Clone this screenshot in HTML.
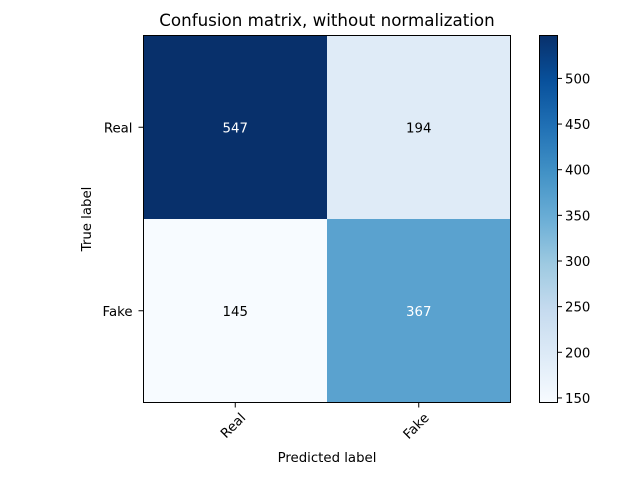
<!DOCTYPE html>
<html><head><meta charset="utf-8"><style>
body{margin:0;background:#fff;}
svg text{font-family:"DejaVu Sans","Liberation Sans",sans-serif;font-size:13.3px;}
</style></head><body>
<svg width="640" height="480">
<defs><linearGradient id="cb" x1="0" y1="1" x2="0" y2="0">
<stop offset="0" stop-color="#f7fbff"/><stop offset="0.125" stop-color="#deebf7"/><stop offset="0.25" stop-color="#c6dbef"/><stop offset="0.375" stop-color="#9ecae1"/><stop offset="0.5" stop-color="#6baed6"/><stop offset="0.625" stop-color="#4292c6"/><stop offset="0.75" stop-color="#2171b5"/><stop offset="0.875" stop-color="#08519c"/><stop offset="1" stop-color="#08306b"/>
</linearGradient></defs>
<g id="cells"></g>
<text x="327" y="26" text-anchor="middle" style="font-size:16.7px">Confusion matrix, without normalization</text>
<text x="327" y="462" text-anchor="middle">Predicted label</text>
<text transform="translate(91,219) rotate(-90)" text-anchor="middle">True label</text>
<rect x="539.5" y="35.5" width="18" height="367" fill="url(#cb)" stroke="#000" stroke-width="1"/>
<g id="cbticks"></g>
</svg>
<script>
const labels=["Real","Fake"];
const matrix=[[547,194],[145,367]];
const cbTicks=[150,200,250,300,350,400,450,500];
const stops=["#f7fbff","#deebf7","#c6dbef","#9ecae1","#6baed6","#4292c6","#2171b5","#08519c","#08306b"];
const ns="http://www.w3.org/2000/svg";
const L=143.5,T=35.5,W=367,H=367;
const flat=matrix.flat(),vmin=Math.min(...flat),vmax=Math.max(...flat);
function hex(h){return [1,3,5].map(i=>parseInt(h.substr(i,2),16));}
function cmap(v){let t=(v-vmin)/(vmax-vmin)*(stops.length-1);let i=Math.min(Math.floor(t),stops.length-2);let f=t-i;let a=hex(stops[i]),b=hex(stops[i+1]);return "rgb("+a.map((x,k)=>Math.round(x+(b[k]-x)*f)).join(",")+")";}
function mk(tag,at,txt){const e=document.createElementNS(ns,tag);for(const k in at)e.setAttribute(k,at[k]);if(txt!==undefined)e.textContent=txt;return e;}
const g=document.getElementById("cells");
const n=labels.length,cw=W/n,ch=H/n;
matrix.forEach((row,i)=>row.forEach((v,j)=>{
 const r=mk("rect",{x:L+j*cw,y:T+i*ch,width:cw,height:ch,fill:cmap(v)});
 
 
 g.appendChild(r);
 const t=mk("text",{x:L+(j+0.5)*cw,y:T+(i+0.5)*ch+5,"text-anchor":"middle",fill:v>(vmax+vmin)/2?"#fff":"#000"},String(v));
 
 
 g.appendChild(t);
}));
const fr=mk("rect",{x:L,y:T,width:W,height:H,fill:"none",stroke:"#000","stroke-width":1});


g.appendChild(fr);
labels.forEach((lab,i)=>{
 const y=T+(i+0.5)*ch;
 g.appendChild(mk("line",{x1:L,x2:L-5,y1:y,y2:y,stroke:"#000"}));
 const t=mk("text",{x:L-11,y:y+5,"text-anchor":"end"},lab);
 
 
 g.appendChild(t);
 const x=L+(i+0.5)*cw;
 g.appendChild(mk("line",{x1:x,x2:x,y1:T+H,y2:T+H+5,stroke:"#000"}));
 const t2=mk("text",{transform:`translate(${x+4},${T+H+9}) rotate(-45)`,"text-anchor":"end",dy:"0.75em"},lab);
 
 
 g.appendChild(t2);
});
const cg=document.getElementById("cbticks");
cbTicks.forEach(v=>{
 const y=402.5-(v-vmin)/(vmax-vmin)*367;
 cg.appendChild(mk("line",{x1:557.5,x2:562,y1:y,y2:y,stroke:"#000"}));
 const t=mk("text",{x:565,y:y+5},String(v));
 
 
 cg.appendChild(t);
});
</script>
</body></html>
